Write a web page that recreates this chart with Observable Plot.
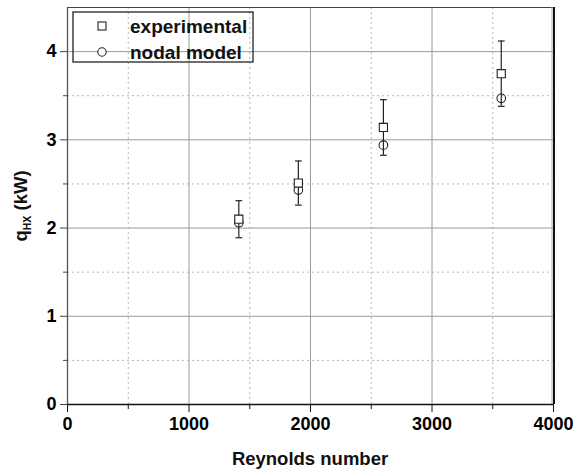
<!DOCTYPE html>
<html>
<head>
<meta charset="utf-8">
<script src="https://cdn.jsdelivr.net/npm/d3@7"></script>
<script src="https://cdn.jsdelivr.net/npm/@observablehq/plot@0.6"></script>
<style>
  body { margin: 0; background: #fff; }
  #wrap { position: relative; width: 573px; height: 473px; }
</style>
</head>
<body>
<div id="wrap"></div>
<script>
// ---- data ----
const reynolds      = [1410, 1900, 2600, 3570];
const experimental  = [2.10, 2.51, 3.14, 3.75];
const expError      = [0.21, 0.25, 0.315, 0.37];
const nodalModel    = [2.06, 2.43, 2.94, 3.47];

const xMajorTicks = [0, 1000, 2000, 3000, 4000];
const xMinorTicks = [500, 1500, 2500, 3500];
const yMajorTicks = [0, 1, 2, 3, 4];
const yMinorTicks = [0.5, 1.5, 2.5, 3.5];
const xLabel = "Reynolds number";
const legendLabels = ["experimental", "nodal model"];

const rows = reynolds.map((re, i) => ({
  re,
  exp: experimental[i],
  lo: experimental[i] - expError[i],
  hi: experimental[i] + expError[i],
  nodal: nodalModel[i]
}));

const capSymbol = {
  draw(context, size) {
    const w = Math.sqrt(size / Math.PI);
    context.moveTo(-w, 0);
    context.lineTo(w, 0);
  }
};

const FONT = "'Liberation Sans', Arial, sans-serif";

const chart = Plot.plot({
  width: 573,
  height: 473,
  marginLeft: 67,
  marginRight: 20,
  marginTop: 7,
  marginBottom: 69,
  style: { fontFamily: FONT, fontWeight: "bold", fontSize: "18px", color: "#000", background: "#fff" },
  x: { domain: [0, 4000], label: null },
  y: { domain: [0, 4.5], label: null },
  marks: [
    // minor grid (dotted)
    Plot.gridX(xMinorTicks, { stroke: "#b5b5b5", strokeOpacity: 1, strokeDasharray: "2,3" }),
    Plot.gridY(yMinorTicks, { stroke: "#b5b5b5", strokeOpacity: 1, strokeDasharray: "2,3" }),
    // major grid (solid)
    Plot.gridX(xMajorTicks.slice(1, -1), { stroke: "#9a9a9a", strokeOpacity: 1 }),
    Plot.gridY(yMajorTicks.slice(1), { stroke: "#9a9a9a", strokeOpacity: 1 }),
    // frame lines
    Plot.ruleY([4.5], { stroke: "#444", strokeWidth: 1.2 }),
    Plot.ruleX([4000], { stroke: "#aaa", strokeWidth: 1, dx: -1.5 }),
    Plot.ruleX([4000], { stroke: "#111", strokeWidth: 2, dx: 0.5 }),
    // axes
    Plot.axisX(xMajorTicks, { tickSize: 8, tickPadding: 5, tickFormat: d => String(d), stroke: "#111", fontSize: 18, label: null }),
    Plot.axisX(xMinorTicks, { tickSize: 5, text: null, stroke: "#111", label: null }),
    Plot.axisY(yMajorTicks, { tickSize: 7, tickPadding: 4, tickFormat: d => String(d), stroke: "#444", fontSize: 18, label: null }),
    Plot.axisY(yMinorTicks, { tickSize: 4, text: null, stroke: "#444", label: null }),
    Plot.ruleX([0], { stroke: "#555", strokeWidth: 1.3 }),
    Plot.ruleY([0], { stroke: "#111", strokeWidth: 1.3 }),
    // nodal model circles (behind error bars)
    Plot.dot(rows, { x: "re", y: "nodal", r: 4.3, symbol: "circle", fill: "none", stroke: "#222", strokeWidth: 1.1 }),
    // error bars of experimental
    Plot.ruleX(rows, { x: "re", y1: "lo", y2: "hi", stroke: "#222", strokeWidth: 1.2 }),
    Plot.dot(rows, { x: "re", y: "hi", r: 3.4, symbol: capSymbol, fill: "none", stroke: "#222", strokeWidth: 1.2 }),
    Plot.dot(rows, { x: "re", y: "lo", r: 3.4, symbol: capSymbol, fill: "none", stroke: "#222", strokeWidth: 1.2 }),
    // experimental squares
    Plot.dot(rows, { x: "re", y: "exp", r: 4.6, symbol: "square", fill: "#fff", stroke: "#222", strokeWidth: 1.1 })
  ]
});

const svg = d3.select(chart);

// x label
svg.append("text")
  .attr("x", 67 + (573 - 67 - 20) / 2)
  .attr("y", 465)
  .attr("text-anchor", "middle")
  .attr("font-family", FONT)
  .attr("font-weight", "bold")
  .attr("font-size", 18.5)
  .attr("fill", "#111")
  .text(xLabel);

// y label with subscript
const yl = svg.append("text")
  .attr("transform", "translate(27,206) rotate(-90)")
  .attr("text-anchor", "middle")
  .attr("font-family", FONT)
  .attr("font-weight", "bold")
  .attr("font-size", 18.5)
  .attr("fill", "#111");
yl.append("tspan").text("q");
yl.append("tspan").attr("font-size", 10.5).attr("dy", 4).text("HX");
yl.append("tspan").attr("dy", -4).text(" (kW)");

// legend (transparent box)
const lg = svg.append("g").attr("transform", "translate(73,12)");
lg.append("rect").attr("width", 180).attr("height", 50)
  .attr("fill", "none").attr("stroke", "#222").attr("stroke-width", 1.3);
lg.append("rect").attr("x", 29 - 4).attr("y", 14 - 4).attr("width", 8).attr("height", 8)
  .attr("fill", "#fff").attr("stroke", "#222").attr("stroke-width", 1.1);
lg.append("circle").attr("cx", 29).attr("cy", 40).attr("r", 4.2)
  .attr("fill", "#fff").attr("stroke", "#222").attr("stroke-width", 1.1);
legendLabels.forEach((t, i) => {
  lg.append("text")
    .attr("x", 57).attr("y", 14 + i * 26)
    .attr("dy", "0.35em")
    .attr("text-anchor", "start")
    .attr("font-family", FONT)
    .attr("font-weight", "bold")
    .attr("font-size", 19)
    .attr("fill", "#111")
    .text(t);
});

document.getElementById("wrap").appendChild(chart);
</script>
</body>
</html>
